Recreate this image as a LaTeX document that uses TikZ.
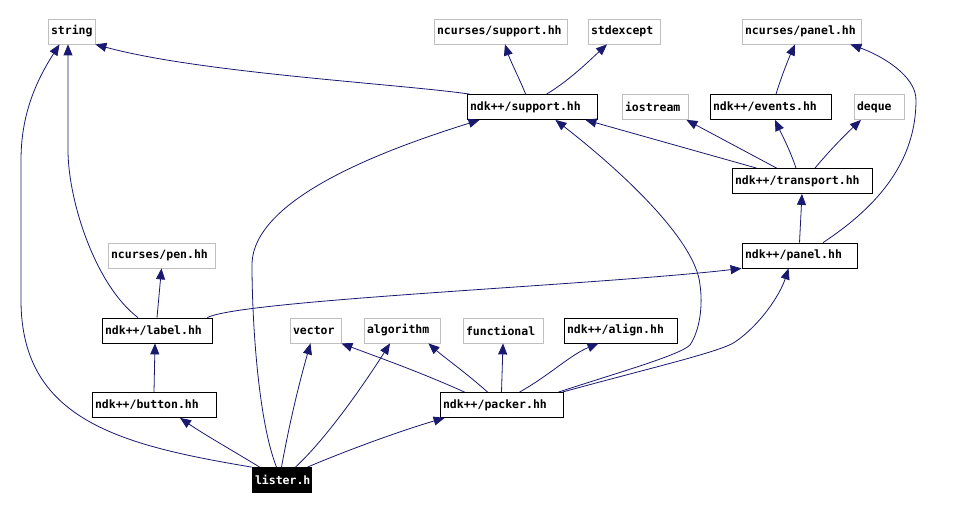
\documentclass[tikz,border=0pt]{standalone}
\usepackage{fontspec}
\usepackage{xcolor}
\usepackage{tikz}
\usetikzlibrary{shapes, arrows.meta}
\newfontfamily\boxfont{DejaVu Sans Mono}[BoldFont={DejaVu Sans Mono Bold}]
\definecolor{navy}{RGB}{25,25,112}
\definecolor{extgray}{RGB}{191,191,191}
\tikzstyle{arrow} = [->, >={Triangle[length=11pt, width=9pt]}, draw=navy, line width=0.8pt]
\tikzstyle{int} = [rectangle, minimum height=25pt, inner xsep=3pt, inner ysep=0pt, align=left, draw=black, fill=white, line width=0.8pt, font=\boxfont\bfseries\fontsize{11.5}{13}\selectfont]
\tikzstyle{ext} = [int, draw=extgray]
\tikzstyle{main} = [int, fill=black, text=white]

\begin{document}
\begin{tikzpicture}[x=1pt, y=-1pt]
    \useasboundingbox (0,0) rectangle (959,510);

    % Fila superior
    \node (string) [ext, text width=41pt] at (71.5,31.5) {string};
    \node (ncsupport) [ext, text width=127pt] at (500.5,31.5) {ncurses/support.hh};
    \node (stdexcept) [ext, text width=66pt] at (624,31.5) {stdexcept};
    \node (ncpanel) [ext, text width=113pt] at (801.5,31.5) {ncurses/panel.hh};

    % Segunda fila
    \node (support) [int, text width=124pt] at (532,107) {ndk++/support.hh};
    \node (iostream) [ext, text width=60pt] at (655,107) {iostream};
    \node (events) [int, text width=115pt] at (770.5,107) {ndk++/events.hh};
    \node (deque) [ext, text width=44pt] at (879,107) {deque};

    % Transporte y panel
    \node (transport) [int, text width=134pt] at (802,181) {ndk++/transport.hh};
    \node (panel) [int, text width=109pt] at (799.5,255.5) {ndk++/panel.hh};
    \node (pen) [ext, text width=101pt] at (161.5,255.5) {ncurses/pen.hh};

    % Fila de label
    \node (label) [int, text width=104pt] at (157,330.5) {ndk++/label.hh};
    \node (vector) [ext, text width=45pt] at (315.5,330.5) {vector};
    \node (algorithm) [ext, text width=70pt] at (402,330.5) {algorithm};
    \node (functional) [ext, text width=74pt] at (503,330.5) {functional};
    \node (align) [int, text width=107pt] at (620.5,330.5) {ndk++/align.hh};

    % Fila inferior
    \node (button) [int, text width=118pt] at (154,405) {ndk++/button.hh};
    \node (packer) [int, text width=117pt] at (501.5,405) {ndk++/packer.hh};
    \node (lister) [main, text width=53pt] at (281.5,480) {lister.h};

    % Flechas de support
    \draw [arrow] ([xshift=3pt]support.north west) .. controls (400,84) and (200,73) .. (string.south east);
    \draw [arrow] ([xshift=59pt]support.north west) .. controls (520,80) and (510,60) .. ([xshift=4.5pt]ncsupport.south);
    \draw [arrow] ([xshift=80pt]support.north west) .. controls (570,80) and (590,60) .. ([xshift=-17pt]stdexcept.south);

    % Flechas de transport
    \draw [arrow] ([xshift=25pt]transport.north west) -- ([xshift=-12pt]support.south east);
    \draw [arrow] ([xshift=45pt]transport.north west) -- ([xshift=-2pt]iostream.south east);
    \draw [arrow] ([xshift=-6pt]transport.north) .. controls (790,150) and (782,135) .. ([xshift=4.5pt]events.south);
    \draw [arrow] ([xshift=13pt]transport.north) .. controls (830,150) and (845,135) .. ([xshift=-18pt]deque.south);
    \draw [arrow] ([xshift=5.5pt]events.north) .. controls (782,75) and (788,60) .. ([xshift=-6.5pt]ncpanel.south);

    % Flechas de panel
    \draw [arrow] (panel.north) -- (transport.south);
    \draw [arrow] ([xshift=23.5pt]panel.north) .. controls (880,205) and (916,160) .. (916,100) .. controls (916,75) and (880,55) .. ([xshift=-11pt]ncpanel.south east);

    % Flechas de label y button
    \draw [arrow] ([xshift=-19pt]label.north) .. controls (95,285) and (68,200) .. (68,150) -- ([xshift=-3.5pt]string.south);
    \draw [arrow] (label.north) -- (pen.south);
    \draw [arrow] ([xshift=-5pt]label.north east) .. controls (240,300) and (600,285) .. (panel.south west);
    \draw [arrow] (button.north) -- ([xshift=-2pt]label.south);

    % Flechas de lister
    \draw [arrow] (lister.north west) .. controls (120,445) and (21,420) .. (21,300) -- (21,160) .. controls (21,112) and (38,78) .. ([xshift=-12pt]string.south);
    \draw [arrow] ([xshift=8pt]lister.north west) .. controls (235,452) and (205,435) .. ([xshift=26pt]button.south);
    \draw [arrow] ([xshift=-5pt]lister.north) .. controls (258,420) and (252,320) .. (252,265) .. controls (252,195) and (400,145) .. ([xshift=13pt]support.south west);
    \draw [arrow] (lister.north) .. controls (290,420) and (300,380) .. ([xshift=-5pt]vector.south);
    \draw [arrow] ([xshift=14pt]lister.north) .. controls (330,435) and (370,375) .. ([xshift=-12pt]algorithm.south);
    \draw [arrow] ([xshift=-4pt]lister.north east) .. controls (360,445) and (410,428) .. ([xshift=5pt]packer.south west);

    % Flechas de packer
    \draw [arrow] ([xshift=25pt]packer.north west) .. controls (420,372) and (380,358) .. (vector.south east);
    \draw [arrow] ([xshift=48pt]packer.north west) .. controls (465,372) and (445,358) .. ([xshift=-12pt]algorithm.south east);
    \draw [arrow] (packer.north) -- (functional.south);
    \draw [arrow] ([xshift=18pt]packer.north) .. controls (550,375) and (570,355) .. ([xshift=-22pt]align.south);
    \draw [arrow] ([xshift=-5pt]packer.north east) .. controls (620,372) and (680,355) .. (690,345) .. controls (700,330) and (703,305) .. (700,285) .. controls (696,240) and (620,170) .. ([xshift=-42pt]support.south east);
    \draw [arrow] ([xshift=-1pt]packer.north east) .. controls (650,368) and (720,352) .. (735,342) .. controls (760,325) and (780,295) .. ([xshift=-11pt]panel.south);
\end{tikzpicture}
\end{document}
